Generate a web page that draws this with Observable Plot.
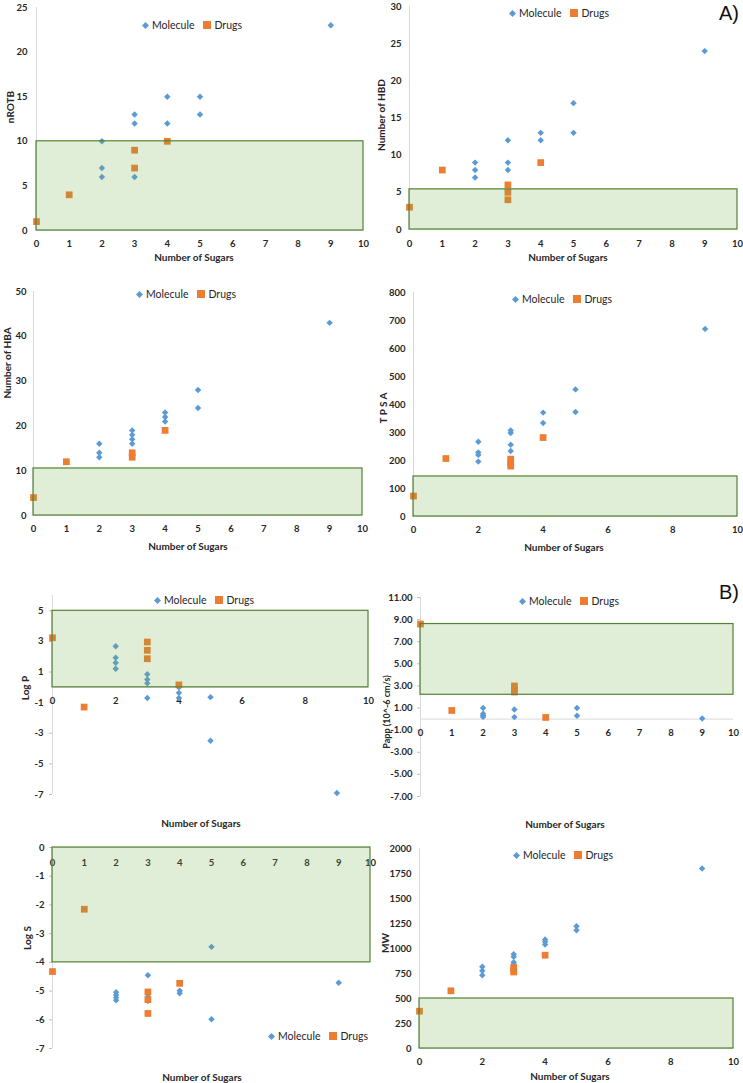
<!DOCTYPE html>
<html>
<head>
<meta charset="utf-8">
<script src="https://cdn.jsdelivr.net/npm/d3@7"></script>
<script src="https://cdn.jsdelivr.net/npm/@observablehq/plot@0.6"></script>
<style>
  body { margin: 0; background: #fff; }
  #fig { position: relative; width: 743px; height: 1083px; overflow: hidden; font-family: Lato, "Open Sans", sans-serif; }
  .panel { position: absolute; }
  .ytitle { position: absolute; font-weight: bold; font-size: 10px; color: #262626; white-space: nowrap; transform: translate(-50%, -50%) rotate(-90deg); }
  .xtitle { position: absolute; font-weight: bold; font-size: 10px; color: #262626; white-space: nowrap; transform: translate(-50%, -50%); }
  .legend { position: absolute; transform: translate(-50%, -50%); display: flex; align-items: center; gap: 3px; font-size: 10.5px; color: #262626; white-space: nowrap; }
  .tag { position: absolute; font-family: "Liberation Sans", Arial, sans-serif; font-size: 20px; color: #111; transform: translate(-50%, -50%); }
</style>
</head>
<body>
<div id="fig"></div>
<script>
// ---------- data (x = number of sugars, y = property value) ----------
const sugarTicks = [0, 1, 2, 3, 4, 5, 6, 7, 8, 9, 10];
const sugarTicksEven = [0, 2, 4, 6, 8, 10];

const nrotbMolecule = [[2,10],[2,7],[2,6],[3,13],[3,12],[3,6],[4,15],[4,12],[5,15],[5,13],[9,23]];
const nrotbDrugs = [[0,1],[1,4],[3,9],[3,7],[4,10]];
const nrotbTicks = [0, 5, 10, 15, 20, 25];

const hbdMolecule = [[2,9],[2,8],[2,7],[3,12],[3,9],[3,8],[4,13],[4,12],[5,17],[5,13],[9,24]];
const hbdDrugs = [[0,3],[1,8],[3,6],[3,5],[3,4],[4,9]];
const hbdTicks = [0, 5, 10, 15, 20, 25, 30];

const hbaMolecule = [[2,16],[2,14],[2,13],[3,19],[3,18],[3,17],[3,16],[4,23],[4,22],[4,21],[5,28],[5,24],[9,43]];
const hbaDrugs = [[0,4],[1,12],[3,14],[3,13],[4,19]];
const hbaTicks = [0, 10, 20, 30, 40, 50];

const tpsaMolecule = [[2,267],[2,229],[2,220],[2,196],[3,307],[3,298],[3,256],[3,234],[4,371],[4,334],[5,454],[5,373],[9,670]];
const tpsaDrugs = [[0,73],[1,207],[3,205],[3,192],[3,180],[4,282]];
const tpsaTicks = [0, 100, 200, 300, 400, 500, 600, 700, 800];

const logpMolecule = [[2,2.68],[2,1.94],[2,1.61],[2,1.22],[3,0.86],[3,0.51],[3,0.27],[3,-0.7],[4,0],[4,-0.36],[4,-0.7],[5,-0.64],[5,-3.49],[9,-6.9]];
const logpDrugs = [[0,3.24],[1,-1.29],[3,2.96],[3,2.42],[3,1.87],[4,0.16]];
const logpTicks = [-7, -5, -3, -1, 1, 3, 5];

const pappMolecule = [[2,1.0],[2,0.48],[2,0.33],[2,0.2],[3,0.87],[3,0.18],[5,1.0],[5,0.3],[9,0.06]];
const pappDrugs = [[0,8.6],[1,0.78],[3,3.0],[3,2.7],[3,2.45],[4,0.15]];
const pappTicks = [-7, -5, -3, -1, 1, 3, 5, 7, 9, 11];

const logsMolecule = [[2,-5.04],[2,-5.14],[2,-5.22],[2,-5.32],[3,-4.45],[3,-5.2],[3,-5.35],[4,-4.99],[4,-5.08],[5,-3.46],[5,-5.98],[9,-4.71]];
const logsDrugs = [[0,-4.32],[1,-2.15],[3,-5.03],[3,-5.3],[3,-5.78],[4,-4.73]];
const logsTicks = [0, -1, -2, -3, -4, -5, -6, -7];

const mwMolecule = [[2,817],[2,777],[2,733],[3,943],[3,917],[3,863],[3,843],[4,1090],[4,1067],[4,1040],[5,1223],[5,1183],[9,1800]];
const mwDrugs = [[0,373],[1,577],[3,810],[3,785],[3,765],[4,933]];
const mwTicks = [0, 250, 500, 750, 1000, 1250, 1500, 1750, 2000];

// ---------- layout ----------
const plain = d => String(d);
const panels = [
  { box:[0,0,372,250], m:[36,9,7,20], yDomain:[0,25], yTicks:nrotbTicks, fmt:plain, xTicks:sugarTicks, axisAt:0, dyT:13, band:[0,10], tsz:0, pad:9,
    mol:nrotbMolecule, drug:nrotbDrugs, ytitle:["nROTB",10,107], xtitle:[194,257], legend:[192,25] },
  { box:[372,0,371,250], m:[37,6,6,21], yDomain:[0,30], yTicks:hbdTicks, fmt:plain, xTicks:sugarTicks, axisAt:0, dyT:14, band:[0,5.4], tsz:0, pad:8,
    mol:hbdMolecule, drug:hbdDrugs, ytitle:["Number of HBD",381,115], xtitle:[568,257], legend:[559,13] },
  { box:[0,280,372,275], m:[33,10,11,40], yDomain:[0,50], yTicks:hbaTicks, fmt:plain, xTicks:sugarTicks, axisAt:0, dyT:13, band:[0,10.5], tsz:0, pad:7,
    mol:hbaMolecule, drug:hbaDrugs, ytitle:["Number of HBA",7,363], xtitle:[188,546], legend:[186,294] },
  { box:[372,280,371,275], m:[41,6,12,39], yDomain:[0,800], yTicks:tpsaTicks, fmt:plain, xTicks:sugarTicksEven, axisAt:0, dyT:13, band:[0,143], tsz:0, pad:8,
    mol:tpsaMolecule, drug:tpsaDrugs, ytitle:["T P S A",383,408], xtitle:[564,547], legend:[562,299] },
  { box:[0,585,372,240], m:[52,4,10,31], yDomain:[-7,6], yTicks:logpTicks, fmt:plain, xTicks:sugarTicksEven, axisAt:0, dyT:14, band:[0,5], tsz:3, pad:6,
    mol:logpMolecule, drug:logpDrugs, ytitle:["Log P",25,688], xtitle:[201,823], legend:[204,600] },
  { box:[372,585,371,240], m:[48,10,12,29], yDomain:[-7,11], yTicks:pappTicks, fmt:d=>d.toFixed(2), xTicks:sugarTicks, axisAt:0, dyT:14, band:[2.2,8.6], tsz:3, pad:5,
    mol:pappMolecule, drug:pappDrugs, ytitle:["Papp (10^-6 cm/s)",386,712], xtitle:[565,824], legend:[569,601] },
  { box:[0,840,372,243], m:[52,2,7,35], yDomain:[-7,0], yTicks:logsTicks, fmt:plain, xTicks:sugarTicks, axisAt:0, dyT:15, band:[-4,0], tsz:3, pad:5,
    mol:logsMolecule, drug:logsDrugs, ytitle:["Log S",27,938], xtitle:[202,1077], legend:[318,1036] },
  { box:[372,840,371,243], m:[47,10,8,35], yDomain:[0,2000], yTicks:mwTicks, fmt:plain, xTicks:sugarTicksEven, axisAt:0, dyT:13, band:[0,500], tsz:0, pad:8,
    mol:mwMolecule, drug:mwDrugs, ytitle:["MW",385,943], xtitle:[570,1076], legend:[563,855] }
];

const blue = "#5B9BD5", orange = "#ED7D31", ink = "#262626", axisGray = "#d9d9d9";
const fig = document.getElementById("fig");

function addDiv(cls, text, x, y) {
  const d = document.createElement("div");
  d.className = cls;
  d.textContent = text;
  d.style.left = x + "px";
  d.style.top = y + "px";
  fig.appendChild(d);
  return d;
}

for (const p of panels) {
  const [L, T, W, H] = p.box;
  const svg = Plot.plot({
    width: W, height: H,
    marginLeft: p.m[0], marginRight: p.m[1], marginTop: p.m[2], marginBottom: p.m[3],
    x: { domain: [0, 10], axis: null },
    y: { domain: p.yDomain, axis: null },
    style: { fontFamily: "Lato, 'Open Sans', sans-serif", fontSize: "9.5px", fontWeight: "bold", color: ink, background: "transparent", overflow: "visible" },
    marks: [
      Plot.ruleX([0], { y1: p.yDomain[0], y2: p.yDomain[1], stroke: axisGray }),
      Plot.ruleY([p.axisAt], { x1: 0, x2: 10, stroke: axisGray }),
      Plot.axisY({ ticks: p.yTicks, tickFormat: p.fmt, tickSize: p.tsz, tickPadding: p.pad, stroke: "#bfbfbf", fill: ink, label: null }),
      Plot.text(p.xTicks, { x: d => d, y: p.axisAt, dy: p.dyT, fill: ink, text: d => String(d) }),
      Plot.dot(p.mol, { x: d => d[0], y: d => d[1], symbol: "diamond2", r: 2.9, fill: blue, stroke: "none" }),
      Plot.dot(p.drug, { x: d => d[0], y: d => d[1], symbol: "square", r: 3.8, fill: orange, stroke: "none" }),
      Plot.rect([p.band], { x1: 0, x2: 10, y1: d => d[0], y2: d => d[1], fill: "#70AD47", fillOpacity: 0.22, stroke: "#548235", strokeWidth: 1.2 })
    ]
  });
  const wrap = document.createElement("div");
  wrap.className = "panel";
  wrap.style.left = L + "px";
  wrap.style.top = T + "px";
  wrap.style.width = W + "px";
  wrap.style.height = H + "px";
  wrap.appendChild(svg);
  fig.appendChild(wrap);

  const yt = addDiv("ytitle", p.ytitle[0], p.ytitle[1], p.ytitle[2]);
  if (p.ytitle[0].startsWith("Papp")) yt.style.fontSize = "9px";
  addDiv("xtitle", "Number of Sugars", p.xtitle[0], p.xtitle[1]);

  const lg = document.createElement("div");
  lg.className = "legend";
  lg.style.left = p.legend[0] + "px";
  lg.style.top = p.legend[1] + "px";
  lg.innerHTML =
    `<svg width="7" height="7"><path d="M3.5 0L7 3.5L3.5 7L0 3.5Z" fill="${blue}"/></svg><span>Molecule</span>` +
    `<svg width="8" height="8" style="margin-left:6px"><rect width="8" height="8" fill="${orange}"/></svg><span>Drugs</span>`;
  fig.appendChild(lg);
}

addDiv("tag", "A)", 729, 13);
addDiv("tag", "B)", 729, 592);
</script>
</body>
</html>
